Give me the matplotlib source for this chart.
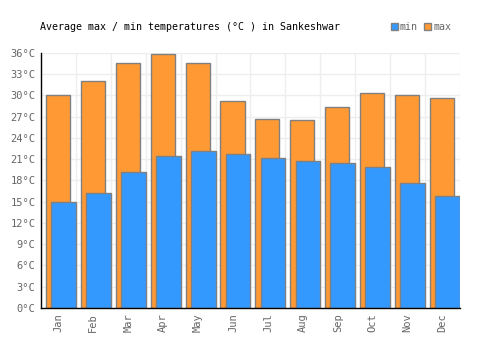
import numpy as np
import matplotlib.pyplot as plt
from matplotlib.patches import Patch

# ── Data ───────────────────────────────────────────────────
months = ['Jan', 'Feb', 'Mar', 'Apr', 'May', 'Jun',
          'Jul', 'Aug', 'Sep', 'Oct', 'Nov', 'Dec']
t_max = [30.0, 32.0, 34.5, 35.8, 34.5, 29.2, 26.6, 26.5, 28.3, 30.3, 30.0, 29.6]
t_min = [15.0, 16.2, 19.2, 21.5, 22.2, 21.7, 21.1, 20.8, 20.4, 19.9, 17.6, 15.8]
yticks = np.arange(0, 37, 3)

# ── Style ──────────────────────────────────────────────────
plt.rcParams['font.family'] = 'DejaVu Sans Mono'
c_max, c_min, edge = '#ff9933', '#3399ff', '#808080'
grey_txt = '#666666'

fig = plt.figure(figsize=(5, 3.5), dpi=100)
ax = fig.add_axes([0.082, 0.12, 0.838, 0.729])

x = np.arange(len(months))
ax.bar(x + 0.14, t_max, width=0.69, align='edge', color=c_max,
       edgecolor=edge, linewidth=1, zorder=2)
ax.bar(x + 0.29, t_min, width=0.71, align='edge', color=c_min,
       edgecolor=edge, linewidth=1, zorder=3)

ax.set_xlim(0, 12)
ax.set_ylim(0, 36)
ax.set_yticks(yticks)
ax.set_yticklabels([f'{v}°C' for v in yticks], fontsize=7.5, color=grey_txt)
ax.set_xticks(x + 0.5)
ax.set_xticklabels(months, rotation=90, fontsize=7.5, color=grey_txt)
ax.tick_params(length=0, pad=4)

# grid: vertical lines at month boundaries, horizontal at ticks
for xv in range(1, 13):
    ax.axvline(xv, color='#eeeeee', lw=1, zorder=0)
for yv in yticks[1:]:
    ax.axhline(yv, color='#eeeeee', lw=1, zorder=0)

for side in ['top', 'right']:
    ax.spines[side].set_visible(False)
for side in ['left', 'bottom']:
    ax.spines[side].set_color('black')
    ax.spines[side].set_linewidth(1)
    ax.spines[side].set_zorder(4)

fig.text(0.08, 0.922, 'Average max / min temperatures (°C ) in Sankeshwar',
         fontsize=7.2, color='black', va='center', ha='left')

handles = [Patch(facecolor=c_min, edgecolor=edge, label='min'),
           Patch(facecolor=c_max, edgecolor=edge, label='max')]
fig.legend(handles=handles, loc='center right', bbox_to_anchor=(0.912, 0.922),
           ncol=2, frameon=False, fontsize=7.2, handlelength=0.7, handleheight=0.7,
           handletextpad=0.2, columnspacing=0.6, labelcolor=grey_txt,
           borderpad=0)

fig.savefig('out.png', dpi=100)
